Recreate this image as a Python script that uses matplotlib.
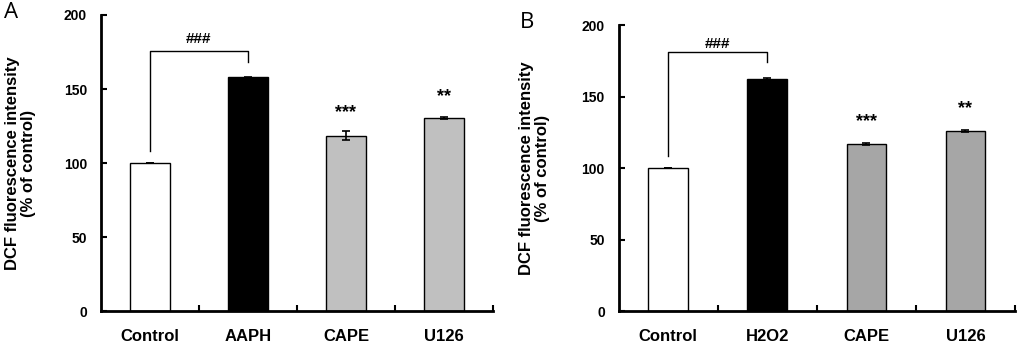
import matplotlib
matplotlib.use("Agg")
import matplotlib.pyplot as plt

categories_a = ["Control", "AAPH", "CAPE", "U126"]
values_a = [100, 158, 118.5, 130.3]
errors_a = [0.0, 0.4, 3.0, 0.6]
stars_a = ["", "", "***", "**"]
stars_y_a = [0, 0, 134, 145]

categories_b = ["Control", "H2O2", "CAPE", "U126"]
values_b = [100, 162.2, 116.6, 125.9]
errors_b = [0.2, 0.7, 0.8, 0.4]
stars_b = ["", "", "***", "**"]
stars_y_b = [0, 0, 132.4, 141.7]

yticks = [0, 50, 100, 150, 200]
ylabel = "DCF fluorescence intensity\n(% of control)"

plt.rcParams['font.family'] = ['Liberation Sans', 'DejaVu Sans']

fig = plt.figure(figsize=(10.24, 3.48), dpi=100)


def panel(rect, cats, vals, errs, stars, stars_y, gray, letter, letter_xy, br, ylab_x):
    ax = fig.add_axes(rect)
    x = [i + 0.5 for i in range(len(cats))]
    colors = ["white", "black", gray, gray]
    ax.bar(x, vals, width=0.4, color=colors, edgecolor="black", linewidth=1.0, zorder=2)
    ax.errorbar(x, vals, yerr=errs, fmt="none", ecolor="black", elinewidth=1.2,
                capsize=3, capthick=1.2, zorder=3)
    ax.set_xlim(0, 4)
    ax.set_ylim(0, 200)
    ax.set_yticks(yticks)
    ax.set_yticklabels([str(t) for t in yticks], fontsize=10, fontweight="bold")
    ax.set_xticks([1, 2, 3, 4])
    ax.set_xticklabels([])
    ax.set_xticks(x, minor=True)
    ax.set_xticklabels(cats, minor=True, fontsize=12, fontweight="bold")
    ax.tick_params(axis="x", which="major", direction="in", length=4, width=1.5)
    ax.tick_params(axis="x", which="minor", length=0, pad=13)
    ax.tick_params(axis="y", direction="in", length=4, width=1.5, pad=10)
    for s in ["top", "right"]:
        ax.spines[s].set_visible(False)
    for s in ["left", "bottom"]:
        ax.spines[s].set_linewidth(2)
    ax.set_ylabel(ylabel, fontsize=12, fontweight="bold", linespacing=1.1)
    ax.yaxis.set_label_coords(ylab_x, 0.5)
    # bracket
    l0, top, r0, ytxt = br
    ax.plot([x[0], x[0], x[1], x[1]], [l0, top, top, r0], color="black", lw=1.0, zorder=4)
    ax.text((x[0] + x[1]) / 2, ytxt, "###", ha="center", va="center",
            fontsize=11, fontweight="bold")
    for xi, s, sy in zip(x, stars, stars_y):
        if s:
            ax.text(xi, sy, s, ha="center", va="center", fontsize=13, fontweight="bold")
    fig.text(letter_xy[0], letter_xy[1], letter, fontsize=16, family="Open Sans",
             ha="left", va="top")
    return ax


panel([0.0986, 0.1063, 0.3828, 0.8506], categories_a, values_a, errors_a,
      stars_a, stars_y_a, "#c0c0c0", "A", (0.004, 0.995), (108, 175.5, 168, 184), -0.166)
panel([0.6042, 0.1063, 0.387, 0.8218], categories_b, values_b, errors_b,
      stars_b, stars_y_b, "#a6a6a6", "B", (0.508, 0.965), (108.6, 181.3, 174, 186.5), -0.173)

fig.savefig("out.png", dpi=100)
